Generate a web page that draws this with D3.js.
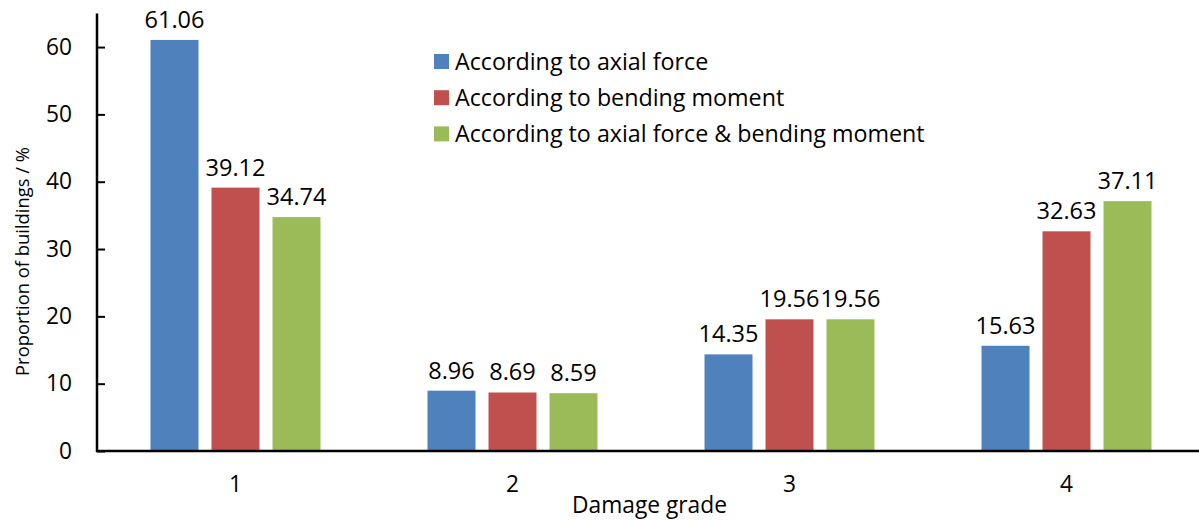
<!DOCTYPE html>
<html><head><meta charset="utf-8">
<script src="https://cdn.jsdelivr.net/npm/d3@7"></script>
<style>body{margin:0;background:#fff}text{font-family:"Open Sans",Lato,sans-serif;fill:#000}</style>
</head><body>
<svg id="c" width="1199" height="520"></svg>
<script>
const categories = ["1","2","3","4"];
const seriesNames = ["According to axial force","According to bending moment","According to axial force & bending moment"];
const axialForce = [61.06, 8.96, 14.35, 15.63];
const bendingMoment = [39.12, 8.69, 19.56, 32.63];
const combined = [34.74, 8.59, 19.56, 37.11];
const yTicks = [0,10,20,30,40,50,60];
const colors = ["#4F81BD","#C0504D","#9BBB59"];

(function(){
const seriesValues = [axialForce, bendingMoment, combined];
const svg = d3.select("#c");
const pL = 97, pR = 1205, pT = 13.4, pB = 451;

function fitSize(sample, width){
  const t = svg.append("text").attr("font-size", 20).text(sample);
  const w = t.node().getComputedTextLength();
  t.remove();
  return 20 * width / w;
}
const fsData = fitSize("19.56", 60);
const fsTick = fitSize("60", 26);
const fsLegend = fitSize(seriesNames[2], 470);
const fsXTitle = fitSize("Damage grade", 155);
const fsYTitle = fitSize("Proportion of buildings / %", 229);

const x0 = d3.scaleBand().domain(categories).range([pL, pR]).paddingInner(0).paddingOuter(0);
const groupPad = 53.5;
const x1 = d3.scaleBand().domain(d3.range(3)).range([groupPad, x0.bandwidth()-groupPad]).paddingInner(13/61).paddingOuter(0);
const y = d3.scaleLinear().domain([0,65]).range([pB, pT]);

const groups = svg.append("g").selectAll("g").data(categories).join("g")
  .attr("transform", d => `translate(${x0(d)},0)`);
groups.each(function(c, ci){
  const g = d3.select(this);
  seriesValues.forEach((vals, si) => {
    g.append("rect").attr("x", x1(si)).attr("width", x1.bandwidth())
      .attr("y", y(vals[ci])).attr("height", y(0)-y(vals[ci]))
      .attr("fill", colors[si]);
    g.append("text").attr("x", x1(si)+x1.bandwidth()/2).attr("y", y(vals[ci])-12)
      .attr("text-anchor","middle").attr("font-size", fsData).text(vals[ci].toFixed(2));
  });
});

const yAxis = svg.append("g").attr("transform", `translate(${pL},0)`)
  .call(d3.axisRight(y).tickValues(yTicks).tickSize(8).tickFormat(d3.format("d")));
yAxis.select(".domain").remove();
yAxis.selectAll(".tick line").attr("stroke","#000").attr("stroke-width",2);
yAxis.selectAll(".tick text").attr("x",-25).attr("text-anchor","end").attr("font-size",fsTick).attr("fill","#000");
svg.append("line").attr("x1",pL).attr("x2",pL).attr("y1",pT).attr("y2",pB+1).attr("stroke","#000").attr("stroke-width",2.5);

const xAxis = svg.append("g").attr("transform", `translate(0,${pB})`)
  .call(d3.axisBottom(x0).tickSize(0).tickPadding(0));
xAxis.select(".domain").remove();
xAxis.selectAll(".tick text").attr("font-size",fsTick).attr("fill","#000").attr("dy",null).attr("y",41);
svg.append("line").attr("x1",pL-1).attr("x2",pR).attr("y1",pB).attr("y2",pB).attr("stroke","#000").attr("stroke-width",2.5);

svg.append("text").attr("x",649.5).attr("y",513).attr("text-anchor","middle").attr("font-size",fsXTitle).text("Damage grade");
svg.append("text").attr("transform","translate(29,261.5) rotate(-90)").attr("text-anchor","middle").attr("font-size",fsYTitle).text("Proportion of buildings / %");

const leg = svg.append("g");
seriesNames.forEach((n,i)=>{
  const cy = 61.5 + i*36.2;
  leg.append("rect").attr("x",434).attr("y",cy-7.5).attr("width",15).attr("height",15).attr("fill",colors[i]);
  leg.append("text").attr("x",455).attr("y",cy).attr("dy","0.36em").attr("font-size",fsLegend).text(n);
});
})();
</script>
</body></html>
